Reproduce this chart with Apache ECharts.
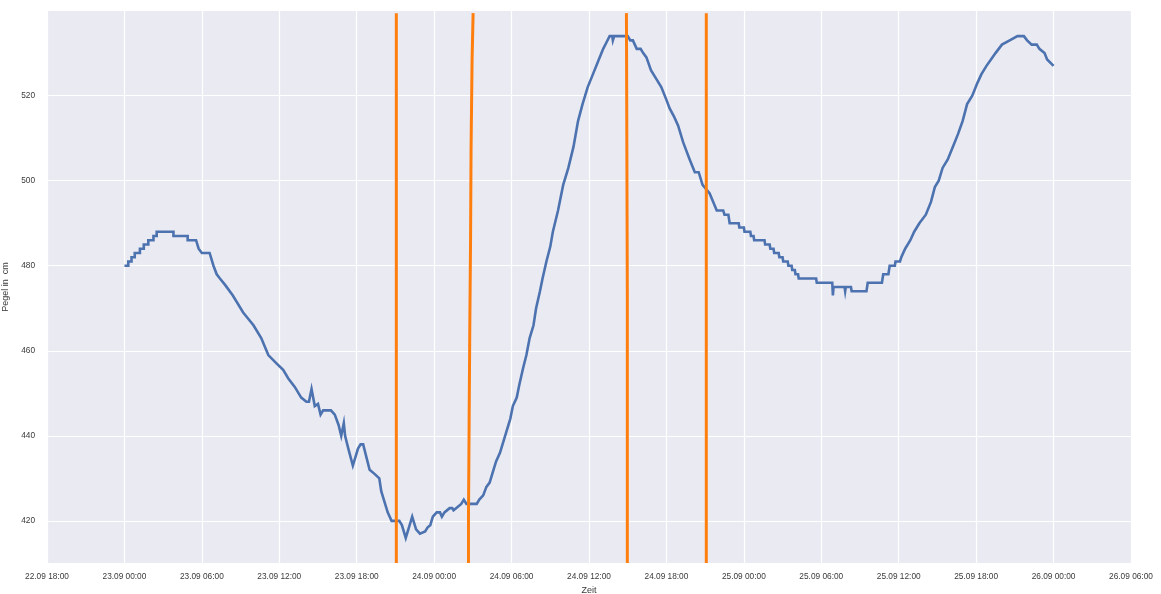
<!DOCTYPE html>
<html>
<head>
<meta charset="utf-8">
<script src="https://cdn.jsdelivr.net/npm/echarts@6/dist/echarts.min.js"></script>
<style>
html,body{margin:0;padding:0;background:#fff;}
#chart{width:1161px;height:594px;}
</style>
</head>
<body>
<div id="chart"></div>
<script>
// Vertices of the gauge-level trace: hours since 23.09 00:00 and level in cm
const lineHours = [
  0, 0.3, 0.3, 0.55, 0.55, 0.8, 0.8, 1.2, 1.2, 1.5, 1.5, 1.85, 1.85, 2.25, 2.25, 2.5, 2.5,
  3.8, 3.8, 4.9, 4.9, 5.55, 5.75, 6.0, 6.6,
  6.9, 7.15, 7.4, 7.8, 8.4, 9.2, 10.0, 10.6, 11.15, 11.8, 12.3, 12.7, 13.2, 13.5, 13.7, 14.1,
  14.3, 14.5, 14.75, 15.0, 15.2, 15.4, 16.0, 16.3, 16.6, 16.8, 17.0, 17.1, 17.35, 17.7, 17.9,
  18.1, 18.3, 18.5, 18.75, 19.0, 19.4, 19.75, 19.9, 20.2, 20.4, 20.7, 21.3, 21.5, 21.8, 22.3,
  22.6, 22.9, 23.3, 23.5, 23.7, 23.9, 24.2, 24.45, 24.6, 24.8, 25.2, 25.4, 25.5, 25.7, 26.1,
  26.3, 26.5, 27.3, 27.5, 27.8, 28.05, 28.3,
  28.6, 28.8, 29.1, 29.3, 29.6, 29.9, 30.1, 30.4, 30.6, 30.9, 31.15, 31.4, 31.7, 31.9, 32.2,
  32.4, 32.7, 33.0, 33.2, 33.6, 34.0, 34.4, 34.8, 35.15, 35.5, 35.9, 36.3, 36.7, 37.1, 37.35,
  37.6, 37.8, 37.85, 37.95, 39.0, 39.2, 39.4, 39.7, 40.0, 40.2, 40.45, 40.8, 41.2, 41.6, 42.0,
  42.25, 42.6, 42.9, 43.3, 43.8, 44.2, 44.5, 44.8, 45.35, 45.9, 46.4,
  46.5, 46.8, 46.9, 47.6, 47.65, 48.0, 48.05, 48.5, 48.55, 48.75, 48.8, 49.6, 49.65, 50.0,
  50.05, 50.3, 50.35, 50.7, 50.75, 51.0, 51.05, 51.4, 51.45, 51.7, 51.75, 51.95, 52.0, 52.2,
  52.25, 53.6, 53.65, 54.85, 54.9, 54.95, 55.8, 55.85, 55.9, 56.3, 56.35, 57.5, 57.6, 58.7,
  58.8, 59.2, 59.3, 59.7, 59.75, 60.1,
  60.2, 60.5, 60.9, 61.2, 61.6, 62.1, 62.5, 62.8, 63.1, 63.4, 63.8, 64.2, 64.6, 64.95, 65.3,
  65.7, 66.1, 66.4, 66.8, 67.15, 67.5, 68.0, 68.6, 69.2, 69.7, 69.95, 70.3, 70.7, 70.9, 71.3,
  71.5, 72.0
];
const lineLevels = [
  480, 480, 481, 481, 482, 482, 483, 483, 484, 484, 485, 485, 486, 486, 487, 487, 488,
  488, 487, 487, 486, 486, 484, 483, 483,
  480, 478, 477, 475.5, 473, 469, 466, 463, 459, 457, 455.5, 453.5, 451.5, 450, 449, 448,
  448, 451, 447, 447.5, 445, 446, 446, 445, 442.5, 440, 443, 440, 437, 433, 435,
  437, 438, 438, 435, 432, 431, 430, 427, 424, 422, 420, 420, 419, 416, 421,
  418, 417, 417.5, 418.5, 419, 421, 422, 422, 421, 422, 423, 423, 422.5, 423, 424,
  425, 424, 424, 425, 426, 428, 429,
  432, 434, 436, 438, 441, 444, 447, 449, 452, 456, 459, 463, 466, 470, 474,
  477, 481, 484.5, 488, 493, 499, 503, 508, 514, 518, 522, 525, 528, 531, 532.5,
  534, 534, 533, 534, 534, 533, 533, 531, 531, 530, 529, 526, 524, 522, 519,
  517, 515, 513, 509, 505, 502, 502, 499, 497, 493, 493,
  492, 492, 490, 490, 489, 489, 488, 488, 487, 487, 486, 486, 485, 485,
  484, 484, 483, 483, 482, 482, 481, 481, 480, 480, 479, 479, 478, 478,
  477, 477, 476, 476, 473, 475, 475, 474, 475, 475, 474, 474, 476, 476,
  478, 478, 480, 480, 481, 481,
  482, 484, 486, 488, 490, 492, 495, 498.5, 500, 503, 505, 508, 511, 514, 518,
  520, 523, 525, 527, 528.5, 530, 532, 533, 534, 534, 533, 532, 532, 531, 530,
  528.5, 527
];

// Orange event lines: hours since 23.09 00:00 and levels of their vertices
const event1Hours = [21.07, 21.07];
const event1Levels = [410.1, 539.4];
const event2Hours = [26.66, 26.66, 26.71, 26.71, 26.76, 26.76, 26.82, 26.82, 26.86, 26.86, 26.94, 26.94, 27.02, 27.02];
const event2Levels = [410.1, 420.7, 420.7, 442.6, 442.6, 464.3, 464.3, 485.5, 485.5, 507, 507, 528.5, 528.5, 539.4];
const event3Hours = [38.97, 38.97, 38.9, 38.9];
const event3Levels = [410.1, 474, 474, 539.4];
const event4Hours = [45.09, 45.09];
const event4Levels = [410.1, 539.4];

// X tick labels, every 6 hours from 22.09 18:00 (= -6 h) to 26.09 06:00 (= 78 h)
const xTickLabels = [
  '22.09 18:00', '23.09 00:00', '23.09 06:00', '23.09 12:00', '23.09 18:00',
  '24.09 00:00', '24.09 06:00', '24.09 12:00', '24.09 18:00', '25.09 00:00',
  '25.09 06:00', '25.09 12:00', '25.09 18:00', '26.09 00:00', '26.09 06:00'
];
const yTickValues = [420, 440, 460, 480, 500, 520];

const pairs = (xs, ys) => xs.map((x, i) => [x, ys[i]]);

const chart = echarts.init(document.getElementById('chart'), null, {renderer: 'canvas'});
const labelFont = {fontFamily: 'Liberation Sans, Arial, sans-serif', fontSize: 8.3, color: '#3a3a3a'};
const eventStyle = {color: '#FF7F0E', width: 3};

chart.setOption({
  animation: false,
  backgroundColor: '#ffffff',
  grid: {
    left: 47, right: 30, top: 11, bottom: 31, show: true,
    backgroundColor: '#EAEAF2', borderWidth: 0,
    containLabel: false, outerBoundsMode: 'none'
  },
  xAxis: {
    type: 'value', min: -6, max: 78, interval: 6,
    name: 'Zeit', nameLocation: 'middle', nameGap: 22,
    nameTextStyle: {fontFamily: 'Liberation Sans, Arial, sans-serif', fontSize: 9, color: '#3a3a3a'},
    axisLine: {show: false}, axisTick: {show: false},
    axisLabel: Object.assign({
      margin: 10, showMinLabel: true, showMaxLabel: true, hideOverlap: false,
      formatter: v => xTickLabels[Math.round((v + 6) / 6)] || ''
    }, labelFont),
    splitLine: {show: true, lineStyle: {color: '#ffffff', width: 1.2}}
  },
  yAxis: {
    type: 'value', min: 410.1, max: 539.9,
    name: 'Pegel in  cm', nameLocation: 'middle', nameGap: 34, nameRotate: 90,
    nameTextStyle: {fontFamily: 'Liberation Sans, Arial, sans-serif', fontSize: 9, color: '#3a3a3a'},
    axisLine: {show: false},
    axisTick: {show: false, customValues: yTickValues},
    axisLabel: Object.assign({margin: 12, customValues: yTickValues}, labelFont),
    splitLine: {show: true, lineStyle: {color: '#ffffff', width: 1.2}}
  },
  series: [
    {
      type: 'line', showSymbol: false, silent: true,
      data: pairs(lineHours, lineLevels),
      lineStyle: {color: '#4C72B0', width: 2.6, join: 'miter'}, z: 2
    },
    {type: 'line', showSymbol: false, silent: true, data: pairs(event1Hours, event1Levels), lineStyle: eventStyle, z: 3},
    {type: 'line', showSymbol: false, silent: true, data: pairs(event2Hours, event2Levels), lineStyle: eventStyle, z: 3},
    {type: 'line', showSymbol: false, silent: true, data: pairs(event3Hours, event3Levels), lineStyle: eventStyle, z: 3},
    {type: 'line', showSymbol: false, silent: true, data: pairs(event4Hours, event4Levels), lineStyle: eventStyle, z: 3}
  ]
});
</script>
</body>
</html>
